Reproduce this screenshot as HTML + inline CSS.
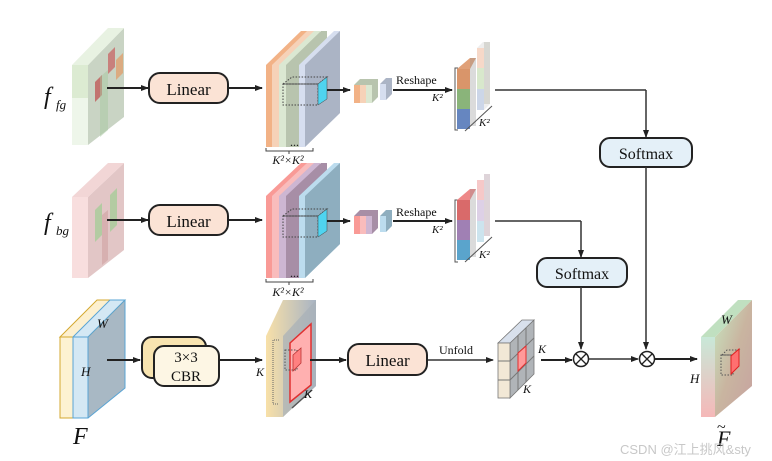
<!DOCTYPE html>
<html><head><meta charset="utf-8"><style>
html,body{margin:0;padding:0;background:#fff;}
svg{display:block;}
text{font-family:"Liberation Serif",serif;fill:#111;}
</style></head><body>
<svg width="772" height="461" viewBox="0 0 772 461" xmlns="http://www.w3.org/2000/svg">
<defs>
<marker id="ar" markerWidth="8" markerHeight="8" refX="7" refY="4" orient="auto" markerUnits="userSpaceOnUse"><path d="M0,1 L8,4 L0,7 Z" fill="#222"/></marker>
<linearGradient id="gout" x1="0" y1="0" x2="1" y2="1"><stop offset="0" stop-color="#c7e6c0"/><stop offset="0.5" stop-color="#c9b5a0"/><stop offset="1" stop-color="#c7a2a0"/></linearGradient>
<linearGradient id="gout2" x1="0" y1="0" x2="0" y2="1"><stop offset="0" stop-color="#c8e8d8"/><stop offset="1" stop-color="#f5b8b8"/></linearGradient>
<linearGradient id="gfeat" x1="0" y1="0" x2="1" y2="0"><stop offset="0" stop-color="#f8e0a8"/><stop offset="1" stop-color="#a8b4c4"/></linearGradient>
</defs>

<!-- f_fg cube -->
<polygon points="88,65 124,28 124,117 88,145" fill="#c9d4c4"/>
<polygon points="72,65 108,28 124,28 88,65" fill="#e8f2e2"/>
<rect x="72" y="65" width="16" height="80" fill="#eef6ea"/>
<rect x="72" y="65" width="16" height="33" fill="#dcebd2"/>
<polygon points="95,82 102,75 102,95 95,102" fill="#c05a5a" opacity="0.8"/>
<polygon points="108,54 115,47 115,67 108,74" fill="#c86a6a" opacity="0.8"/>
<polygon points="116,60 123,53 123,73 116,80" fill="#e0a070" opacity="0.8"/>
<polygon points="100,77 108,70 108,130 100,137" fill="#a8c8a0" opacity="0.5"/>
<text x="44" y="104" font-size="24" font-style="italic">f</text><text x="56" y="109" font-size="13" font-style="italic">fg</text>

<!-- f_bg cube -->
<polygon points="88,197 124,163 124,250 88,278" fill="#e2c6c6"/>
<polygon points="72,197 108,163 124,163 88,197" fill="#f2d6d6"/>
<rect x="72" y="197" width="16" height="81" fill="#f8dede"/>
<polygon points="95,210 102,203 102,235 95,242" fill="#a8cc98" opacity="0.8"/>
<polygon points="110,195 117,188 117,225 110,232" fill="#a8cc98" opacity="0.8"/>
<polygon points="102,215 108,210 108,260 102,265" fill="#c99" opacity="0.5"/>
<text x="44" y="230" font-size="24" font-style="italic">f</text><text x="56" y="235" font-size="13" font-style="italic">bg</text>

<!-- row arrows + Linear -->
<line x1="107" y1="88" x2="148" y2="88" stroke="#222" stroke-width="2" marker-end="url(#ar)"/>
<rect x="149" y="73" width="79" height="30" rx="11" fill="#fbe3d5" stroke="#222" stroke-width="2"/>
<text x="188.5" y="95" font-size="17" text-anchor="middle">Linear</text>
<line x1="229" y1="88" x2="262" y2="88" stroke="#222" stroke-width="2" marker-end="url(#ar)"/>

<line x1="107" y1="220" x2="148" y2="220" stroke="#222" stroke-width="2" marker-end="url(#ar)"/>
<rect x="149" y="205" width="79" height="30" rx="11" fill="#fbe3d5" stroke="#222" stroke-width="2"/>
<text x="188.5" y="227" font-size="17" text-anchor="middle">Linear</text>
<line x1="229" y1="220" x2="262" y2="220" stroke="#222" stroke-width="2" marker-end="url(#ar)"/>

<!-- stack row1 -->
<polygon points="266,147 266,65 301,31 307,31 307,113 272,147" fill="#f2b286"/>
<polygon points="272,147 272,65 307,31 314,31 314,113 279,147" fill="#f6d2b8"/>
<polygon points="279,147 279,65 314,31 320,31 320,113 286,147" fill="#dbe8d2"/>
<polygon points="286,147 286,65 321,31 327,31 327,113 299,147" fill="#b8c4ae"/>
<polygon points="299,147 299,65 334,31 340,31 340,113 305,147" fill="#d6deef"/>
<polygon points="305,147 305,65 340,31 340,113" fill="#abb4c5"/>
<rect x="283" y="84" width="35" height="21" fill="none" stroke="#444" stroke-dasharray="1.5,1.5"/>
<polygon points="283,84 292,77 327,77 318,84" fill="none" stroke="#444" stroke-dasharray="1.5,1.5"/>
<polygon points="318,84 327,77 327,99 318,105" fill="#4fd4f0" stroke="#444" stroke-width="0.5"/>
<text x="290" y="146" font-size="12">...</text>
<path d="M266,148 v3 h47 v-3 M289,151 v3" fill="none" stroke="#444"/>
<text x="288" y="164" font-size="12" font-style="italic" text-anchor="middle">K²×K²</text>

<!-- stack row2 -->
<polygon points="266,278 266,196 301,163 307,163 307,244 272,278" fill="#f99a96"/>
<polygon points="272,278 272,196 307,163 314,163 314,244 279,278" fill="#f9bcbc"/>
<polygon points="279,278 279,196 314,163 320,163 320,244 286,278" fill="#cdb6d2"/>
<polygon points="286,278 286,196 321,163 327,163 327,244 299,278" fill="#a78ea6"/>
<polygon points="299,278 299,196 334,163 340,163 340,244 305,278" fill="#bcdcee"/>
<polygon points="305,278 305,196 340,163 340,244" fill="#8eaebf"/>
<rect x="283" y="216" width="35" height="21" fill="none" stroke="#444" stroke-dasharray="1.5,1.5"/>
<polygon points="283,216 292,209 327,209 318,216" fill="none" stroke="#444" stroke-dasharray="1.5,1.5"/>
<polygon points="318,216 327,209 327,231 318,237" fill="#4fd4f0" stroke="#444" stroke-width="0.5"/>
<text x="290" y="277" font-size="12">...</text>
<path d="M266,279 v3 h47 v-3 M289,282 v3" fill="none" stroke="#444"/>
<text x="288" y="296" font-size="12" font-style="italic" text-anchor="middle">K²×K²</text>

<!-- small stacks -->
<line x1="327" y1="90" x2="350" y2="90" stroke="#222" stroke-width="2" marker-end="url(#ar)"/>
<polygon points="354,103 354,85 360,79 378,79 378,97 372,103" fill="#b8c4ae"/>
<rect x="354" y="85" width="6" height="18" fill="#f2b286"/><rect x="360" y="85" width="6" height="18" fill="#f6d2b8"/><rect x="366" y="85" width="6" height="18" fill="#dbe8d2"/>
<polygon points="380,100 380,84 386,78 392,78 392,94 386,100" fill="#abb4c5"/><rect x="380" y="84" width="6" height="16" fill="#d6deef"/>
<line x1="327" y1="221" x2="350" y2="221" stroke="#222" stroke-width="2" marker-end="url(#ar)"/>
<polygon points="354,234 354,216 360,210 378,210 378,228 372,234" fill="#a78ea6"/>
<rect x="354" y="216" width="6" height="18" fill="#f99a96"/><rect x="360" y="216" width="6" height="18" fill="#f9bcbc"/><rect x="366" y="216" width="6" height="18" fill="#cdb6d2"/>
<polygon points="380,232 380,216 386,210 392,210 392,226 386,232" fill="#8eaebf"/><rect x="380" y="216" width="6" height="16" fill="#bcdcee"/>

<!-- Reshape row1 -->
<text x="396" y="84" font-size="12">Reshape</text>
<line x1="393" y1="90" x2="452" y2="90" stroke="#222" stroke-width="2" marker-end="url(#ar)"/>
<path d="M458,68 h-3 v62 h3" fill="none" stroke="#555"/>
<polygon points="477,48 483,42 490,42 490,104 484,110 477,110" fill="#eeeeee"/>
<rect x="477" y="48" width="7" height="20" fill="#f6d8c8"/><rect x="477" y="68" width="7" height="21" fill="#d8e8cc"/><rect x="477" y="89" width="7" height="21" fill="#ccd6e8"/>
<rect x="484" y="42" width="6" height="62" fill="#c8c8c0" opacity="0.6"/>
<rect x="457" y="69" width="13" height="20" fill="#d9956a"/><rect x="457" y="89" width="13" height="20" fill="#8ab47a"/><rect x="457" y="109" width="13" height="20" fill="#6686c0"/>
<polygon points="457,69 470,58 476,58 470,69" fill="#e0a078"/>
<rect x="470" y="58" width="6" height="68" fill="#999" opacity="0.35"/>
<text x="432" y="101" font-size="11" font-style="italic">K²</text>
<line x1="465" y1="131" x2="492" y2="106" stroke="#555"/>
<text x="479" y="126" font-size="11" font-style="italic">K²</text>
<line x1="495" y1="90" x2="646" y2="90" stroke="#333" stroke-width="1.5"/>
<line x1="646" y1="90" x2="646" y2="137" stroke="#333" stroke-width="1.5" marker-end="url(#ar)"/>
<rect x="600" y="138" width="92" height="29" rx="10" fill="#e4f0f8" stroke="#222" stroke-width="2"/>
<text x="646" y="159" font-size="16" text-anchor="middle">Softmax</text>
<line x1="646" y1="167" x2="646" y2="349" stroke="#333" stroke-width="1.5" marker-end="url(#ar)"/>

<!-- Reshape row2 -->
<text x="396" y="216" font-size="12">Reshape</text>
<line x1="393" y1="221" x2="452" y2="221" stroke="#222" stroke-width="2" marker-end="url(#ar)"/>
<path d="M458,200 h-3 v62 h3" fill="none" stroke="#555"/>
<rect x="477" y="180" width="7" height="20" fill="#f6c8c8"/><rect x="477" y="200" width="7" height="21" fill="#ddd0e6"/><rect x="477" y="221" width="7" height="21" fill="#cce4ee"/>
<rect x="484" y="174" width="6" height="62" fill="#c8b8c0" opacity="0.6"/>
<rect x="457" y="200" width="13" height="20" fill="#d96a6a"/><rect x="457" y="220" width="13" height="20" fill="#a080b4"/><rect x="457" y="240" width="13" height="20" fill="#5aa4cc"/>
<polygon points="457,200 470,189 476,189 470,200" fill="#e88"/>
<rect x="470" y="189" width="6" height="68" fill="#999" opacity="0.35"/>
<text x="432" y="233" font-size="11" font-style="italic">K²</text>
<line x1="465" y1="262" x2="492" y2="237" stroke="#555"/>
<text x="479" y="258" font-size="11" font-style="italic">K²</text>
<line x1="495" y1="221" x2="581" y2="221" stroke="#333" stroke-width="1.5"/>
<line x1="581" y1="221" x2="581" y2="257" stroke="#333" stroke-width="1.5" marker-end="url(#ar)"/>
<rect x="537" y="258" width="90" height="29" rx="10" fill="#e4f0f8" stroke="#222" stroke-width="2"/>
<text x="582" y="279" font-size="16" text-anchor="middle">Softmax</text>
<line x1="581" y1="287" x2="581" y2="349" stroke="#333" stroke-width="1.5" marker-end="url(#ar)"/>

<!-- F block -->
<polygon points="88,337 125,300 125,388 88,418" fill="#a8b8c4"/>
<polygon points="60,337 97,300 125,300 88,337" fill="#fdf0cf" stroke="#d4a830" stroke-width="1"/>
<polygon points="73,337 110,300 125,300 88,337" fill="#d4e8f4" stroke="#5aa4d4" stroke-width="1"/>
<rect x="60" y="337" width="13" height="81" fill="#fdf2d2" stroke="#d4a830"/>
<rect x="73" y="337" width="15" height="81" fill="#d4e8f4" stroke="#5aa4d4"/>
<polyline points="88,418 125,388 125,300" fill="none" stroke="#5aa4d4"/>
<text x="97" y="328" font-size="13" font-style="italic">W</text>
<text x="81" y="376" font-size="13" font-style="italic">H</text>
<text x="73" y="444" font-size="24" font-style="italic">F</text>
<line x1="107" y1="360" x2="140" y2="360" stroke="#222" stroke-width="2" marker-end="url(#ar)"/>

<!-- CBR -->
<rect x="142" y="337" width="64" height="41" rx="10" fill="#f8e4b0" stroke="#222" stroke-width="2"/>
<rect x="154" y="346" width="65" height="40" rx="10" fill="#fdf6e4" stroke="#222" stroke-width="2"/>
<text x="186" y="362" font-size="15" text-anchor="middle">3×3</text>
<text x="186" y="381" font-size="15" text-anchor="middle">CBR</text>
<line x1="219" y1="360" x2="262" y2="360" stroke="#222" stroke-width="2" marker-end="url(#ar)"/>

<!-- feature block -->
<polygon points="266,336 266,417 283,417 316,386 316,300 283,300" fill="url(#gfeat)"/>
<polygon points="283,336 316,300 316,386 283,417" fill="#a8b0b8" opacity="0.7"/>
<polygon points="290,343 311,324 311,385 290,402" fill="#ffb0b0" stroke="#e03030" stroke-width="1.5"/>
<rect x="285" y="350" width="12" height="20" fill="none" stroke="#555" stroke-dasharray="1.5,1.5"/>
<polygon points="293,355 301,348 301,363 293,371" fill="#ff8080" stroke="#b33" stroke-width="0.8"/>
<path d="M279,340 h-6 v64 h6" fill="none" stroke="#666" stroke-dasharray="1,1"/>
<text x="256" y="376" font-size="12" font-style="italic">K</text>
<line x1="292" y1="408" x2="312" y2="390" stroke="#555" stroke-width="1.5"/>
<text x="304" y="398" font-size="12" font-style="italic">K</text>
<line x1="310" y1="360" x2="346" y2="360" stroke="#222" stroke-width="2" marker-end="url(#ar)"/>
<rect x="348" y="344" width="79" height="31" rx="11" fill="#fbe3d5" stroke="#222" stroke-width="2"/>
<text x="387.5" y="366" font-size="17" text-anchor="middle">Linear</text>

<!-- Unfold -->
<text x="439" y="354" font-size="12">Unfold</text>
<line x1="428" y1="360" x2="493" y2="360" stroke="#333" stroke-width="1.5" marker-end="url(#ar)"/>
<polygon points="510,343 534,320 534,374 510,398" fill="#b0b4b8" stroke="#777" stroke-width="0.8"/>
<polygon points="498,343 522,320 534,320 510,343" fill="#d8e0ec" stroke="#777" stroke-width="0.8"/>
<rect x="498" y="343" width="12" height="55" fill="#f2e8d6" stroke="#777" stroke-width="0.8"/>
<line x1="498" y1="361" x2="510" y2="361" stroke="#777"/><line x1="498" y1="380" x2="510" y2="380" stroke="#777"/>
<line x1="510" y1="361" x2="534" y2="338" stroke="#777"/><line x1="510" y1="380" x2="534" y2="356" stroke="#777"/>
<line x1="518" y1="335" x2="518" y2="390" stroke="#777"/><line x1="526" y1="328" x2="526" y2="382" stroke="#777"/>
<polygon points="518,353 526,346 526,363 518,371" fill="#ff9a9a" stroke="#e03030"/>
<text x="538" y="353" font-size="12" font-style="italic">K</text>
<text x="523" y="393" font-size="12" font-style="italic">K</text>

<!-- multiply -->
<line x1="541" y1="360" x2="572" y2="360" stroke="#222" stroke-width="2" marker-end="url(#ar)"/>
<circle cx="581" cy="359" r="7.5" fill="#fff" stroke="#222" stroke-width="1.5"/>
<path d="M576,354 L586,364 M586,354 L576,364" stroke="#222" stroke-width="1.3"/>
<line x1="589" y1="359" x2="638" y2="359" stroke="#333" stroke-width="1.5" marker-end="url(#ar)"/>
<circle cx="647" cy="359" r="7.5" fill="#fff" stroke="#222" stroke-width="1.5"/>
<path d="M642,354 L652,364 M652,354 L642,364" stroke="#222" stroke-width="1.3"/>
<line x1="655" y1="359" x2="697" y2="359" stroke="#222" stroke-width="2" marker-end="url(#ar)"/>

<!-- output -->
<rect x="701" y="337" width="14" height="80" fill="url(#gout2)"/>
<polygon points="701,337 738,300 752,300 715,337" fill="#c0e0c0"/>
<polygon points="715,337 752,300 752,386 715,417" fill="url(#gout)"/>
<rect x="721" y="355" width="12" height="20" fill="none" stroke="#555" stroke-dasharray="1.5,1.5"/>
<polygon points="722,355 727,350 739,350 733,355" fill="none" stroke="#555" stroke-dasharray="1.5,1.5"/>
<polygon points="731,356 739,349 739,366 731,374" fill="#ff7070" stroke="#e02020"/>
<text x="721" y="324" font-size="13" font-style="italic">W</text>
<text x="690" y="383" font-size="13" font-style="italic">H</text>
<text x="717" y="446" font-size="22" font-style="italic">F</text>
<text x="717" y="432" font-size="16">~</text>
<text x="620" y="454" font-size="13" style="font-family:'Liberation Sans','Noto Sans CJK SC',sans-serif;fill:#c8c8c8">CSDN @江上挑风&amp;sty</text>
</svg>
</body></html>
